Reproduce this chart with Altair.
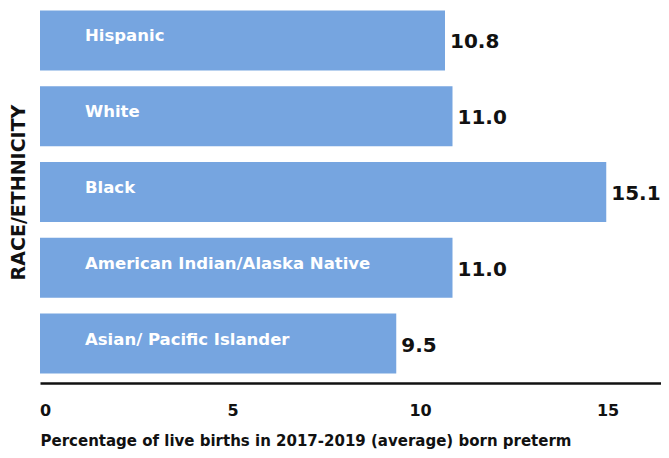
import altair as alt
import pandas as pd

groups = ["Hispanic", "White", "Black", "American Indian/Alaska Native", "Asian/ Pacific Islander"]
values = [10.8, 11.0, 15.1, 11.0, 9.5]
value_labels = ["10.8", "11.0", "15.1", "11.0", "9.5"]
x_ticks = [0, 5, 10, 15]

df = pd.DataFrame({"group": groups, "value": values, "label": value_labels, "start": [0] * len(groups)})

FONT = "DejaVu Sans"
BLUE = "#76A5E0"

y = alt.Y("group:N", sort=groups, title="RACE/ETHNICITY",
          scale=alt.Scale(paddingInner=0.21, paddingOuter=0.02),
          axis=alt.Axis(labels=False, ticks=False, domain=False, titleFont=FONT,
                        titleFontSize=19, titleFontWeight="bold", titleColor="#111",
                        titlePadding=12))

x = alt.X("value:Q", title="Percentage of live births in 2017-2019 (average) born preterm",
          scale=alt.Scale(domain=[0, 16.56], nice=False, zero=True),
          axis=alt.Axis(values=x_ticks, grid=False, ticks=False, domainColor="#111",
                        domainWidth=2.5, labelFont=FONT, labelFontSize=16, labelFontWeight="bold",
                        labelColor="#111", labelPadding=19, labelOffset=5, offset=8,
                        titleFont=FONT, titleFontSize=15, titleFontWeight="bold", titleColor="#111",
                        titleAnchor="start", titleAlign="left", titlePadding=15, labelFlush=False))

bars = alt.Chart(df).mark_bar(color=BLUE).encode(x=x, y=y)

vals = alt.Chart(df).mark_text(align="left", baseline="middle", dx=5, dy=2, font=FONT,
                                fontSize=20, fontWeight="bold", color="#111").encode(
    x="value:Q", y=alt.Y("group:N", sort=groups), text="label:N")

names = alt.Chart(df).mark_text(align="left", baseline="middle", dx=45, dy=-4, font=FONT,
                                 fontSize=16.5, fontWeight="bold", color="white").encode(
    x="start:Q", y=alt.Y("group:N", sort=groups), text="group:N")

chart = (bars + vals + names).properties(
    width=621, height=366,
    autosize=alt.AutoSizeParams(type="none"),
    padding={"left": 32, "top": 1, "right": 0, "bottom": 76},
    background="white",
).configure_view(stroke=None)

chart.save("out.html", embed_options={"renderer": "svg", "actions": False})
